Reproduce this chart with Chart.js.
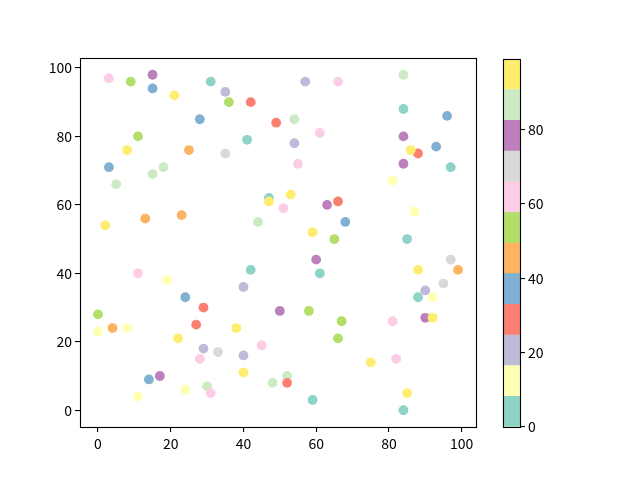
<!DOCTYPE html>
<html><head><meta charset="utf-8">
<script src="https://cdn.jsdelivr.net/npm/chart.js@4"></script>
<style>
html,body{margin:0;padding:0;background:#fff;}
#wrap{position:relative;width:640px;height:480px;}
canvas{position:absolute;top:0;}
</style></head>
<body><div id="wrap">
<canvas id="sc" width="640" height="480" style="left:0"></canvas>
<canvas id="cb" width="160" height="480" style="left:480px"></canvas>
</div>
<script>
const xs = [3,15,9,31,15,35,21,36,42,57,66,84,84,96,28,49,54,61,11,41,54,84,93,8,25,35,88,86,3,18,15,55,84,97,5,81,47,47,53,51,63,66,87,2,13,23,44,68,59,65,85,97,60,61,99,88,42,11,19,95,40,90,24,88,92,29,50,58,0,90,92,67,81,27,4,8,0,38,22,66,45,29,33,28,40,82,75,40,52,17,14,48,52,30,24,31,85,11,59,84];
const ys = [97,98,96,96,94,93,92,90,90,96,96,98,88,86,85,84,85,81,80,79,78,80,77,76,76,75,75,76,71,71,69,72,72,71,66,67,62,61,63,59,60,61,58,54,56,57,55,55,52,50,50,44,44,40,41,41,41,40,38,37,36,35,33,33,33,30,29,29,28,27,27,26,26,25,24,24,23,24,21,21,19,18,17,15,16,15,14,11,10,10,9,8,8,7,6,5,5,4,3,0];
const cs = [62,78,53,4,37,20,95,53,29,20,62,86,4,37,37,29,86,62,53,4,20,78,37,95,45,70,29,95,37,86,86,62,78,4,86,12,4,95,95,62,78,29,12,95,45,45,86,37,95,53,4,70,78,4,45,95,4,62,12,70,20,20,37,4,12,29,78,53,53,78,95,53,62,29,45,12,12,95,95,53,62,20,70,62,20,62,95,95,86,78,37,86,29,86,12,62,95,12,4,4];
const xTicks = [0,20,40,60,80,100];
const yTicks = [0,20,40,60,80,100];
const cbTicks = [0,20,40,60,80];
const cMin = 0, cMax = 99;
const set3 = ['#8dd3c7','#ffffb3','#bebada','#fb8072','#80b1d3','#fdb462','#b3de69','#fccde5','#d9d9d9','#bc80bd','#ccebc5','#ffed6f'];

function colorFor(c){ return set3[Math.min(set3.length-1, Math.floor((c-cMin)/(cMax-cMin)*set3.length))]; }

const font = {family:"'Noto Sans CJK SC', 'Noto Sans', sans-serif", size:14};
const frame = {id:'frame', afterDraw(ch){const a=ch.chartArea,c=ch.ctx;c.save();c.strokeStyle='#000';c.lineWidth=1.1;c.strokeRect(Math.round(a.left)+0.5,Math.round(a.top)+0.5,Math.round(a.right-a.left),Math.round(a.bottom-a.top));c.restore();}};
const axisBase = {
  grid:{drawOnChartArea:false, drawTicks:true, tickLength:5, color:'#000', lineWidth:1.1},
  border:{display:false},
  ticks:{color:'#000', font, padding:3, maxRotation:0}
};

new Chart(document.getElementById('sc'), {
  type:'scatter',
  data:{datasets:[{
    data: xs.map((x,i)=>({x, y:ys[i]})),
    pointBackgroundColor: cs.map(colorFor),
    pointBorderWidth:0, pointRadius:4.9, pointHoverRadius:4.9
  }]},
  options:{
    responsive:false, animation:false, devicePixelRatio:1,
    layout:{padding:{left:0, top:58, right:164, bottom:0}},
    plugins:{legend:{display:false}, tooltip:{enabled:false}},
    scales:{
      x:{...axisBase, type:'linear', min:-4.95, max:103.95,
         afterBuildTicks(s){s.ticks = xTicks.map(v=>({value:v}));},
         afterFit(s){s.height = 53;}},
      y:{...axisBase, type:'linear', min:-4.9, max:102.9,
         afterBuildTicks(s){s.ticks = yTicks.map(v=>({value:v}));},
         afterFit(s){s.width = 80;}}
    }
  },
  plugins:[frame]
});

const nBins = set3.length;
const binW = (cMax-cMin)/nBins;
new Chart(document.getElementById('cb'), {
  type:'bar',
  data:{labels:[''], datasets: set3.map((col)=>({data:[binW], backgroundColor:col, borderWidth:0, barPercentage:1, categoryPercentage:1}))},
  options:{
    responsive:false, animation:false, devicePixelRatio:1,
    layout:{padding:{left:22.7, top:59, right:0, bottom:53}},
    plugins:{legend:{display:false}, tooltip:{enabled:false}},
    scales:{
      x:{display:false, stacked:true},
      y:{...axisBase, position:'right', stacked:true, min:cMin, max:cMax,
         afterBuildTicks(s){s.ticks = cbTicks.map(v=>({value:v}));},
         afterFit(s){s.width = 120;}}
    }
  },
  plugins:[frame]
});
</script>
</body></html>
